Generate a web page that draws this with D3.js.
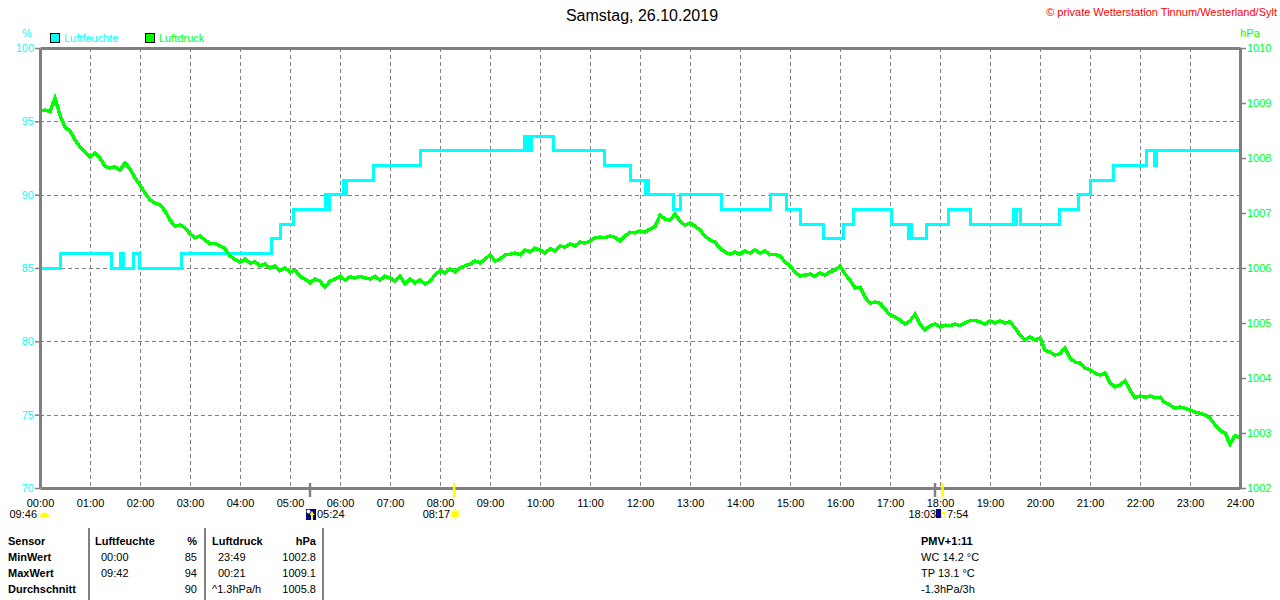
<!DOCTYPE html>
<html>
<head>
<meta charset="utf-8">
<script src="https://cdn.jsdelivr.net/npm/d3@7/dist/d3.min.js"></script>
<style>
  body { margin: 0; background: #ffffff; }
  svg { display: block; font-family: "Liberation Sans", Arial, sans-serif; }
</style>
</head>
<body>
<script>
// ---------------- DATA ----------------
const title = "Samstag, 26.10.2019";
const copyright = "© private Wetterstation Tinnum/Westerland/Sylt";
const seriesNames = ["Luftfeuchte", "Luftdruck"];
const humTicks = [70, 75, 80, 85, 90, 95, 100];
const pressTicks = [1002, 1003, 1004, 1005, 1006, 1007, 1008, 1009, 1010];
const hourTicks = d3.range(0, 25);

// Humidity (%) – step changes: minute of day -> new value
const humChangeMin = [0, 24, 86, 96, 100, 112, 119, 170, 278, 288, 304, 343, 345, 347, 364, 366, 368, 400, 457,
  581, 583, 586, 588, 590, 616, 677, 709, 726, 728, 730, 760, 768, 818, 876, 896, 912, 940, 964, 976,
  1022, 1042, 1044, 1046, 1064, 1090, 1116, 1168, 1170, 1172, 1176, 1223, 1246, 1261, 1288, 1328, 1337, 1340, 1440];
const humValue = [85, 86, 85, 86, 85, 86, 85, 86, 87, 88, 89, 90, 89, 90, 91, 90, 91, 92, 93,
  94, 93, 94, 93, 94, 93, 92, 91, 90, 91, 90, 89, 90, 89, 90, 89, 88, 87, 88, 89,
  88, 87, 88, 87, 88, 89, 88, 89, 88, 89, 88, 89, 90, 91, 92, 93, 92, 93, 93];

// Pressure (hPa) – one reading every 6 minutes, 00:00 .. 24:00 (one row per hour)
const pressStepMin = 6;
const pressure = [
  1008.85,1008.87,1008.84,1009.09,1008.78,1008.56,1008.49,1008.33,1008.20,1008.11,
  1008.02,1008.09,1008.00,1007.85,1007.82,1007.84,1007.78,1007.91,1007.80,1007.64,
  1007.51,1007.36,1007.24,1007.18,1007.15,1007.04,1006.87,1006.76,1006.78,1006.73,
  1006.62,1006.55,1006.58,1006.51,1006.44,1006.45,1006.40,1006.35,1006.22,1006.15,
  1006.11,1006.16,1006.09,1006.11,1006.04,1006.07,1006.00,1006.04,1005.95,1006.00,
  1005.93,1005.96,1005.85,1005.80,1005.73,1005.80,1005.76,1005.65,1005.76,1005.80,
  1005.85,1005.78,1005.84,1005.82,1005.85,1005.82,1005.80,1005.85,1005.78,1005.85,
  1005.82,1005.76,1005.85,1005.71,1005.80,1005.73,1005.78,1005.71,1005.76,1005.87,
  1005.95,1005.91,1005.98,1005.93,1006.00,1006.04,1006.07,1006.13,1006.09,1006.16,
  1006.24,1006.13,1006.16,1006.24,1006.25,1006.27,1006.24,1006.33,1006.29,1006.36,
  1006.33,1006.27,1006.35,1006.31,1006.40,1006.38,1006.44,1006.40,1006.47,1006.45,
  1006.49,1006.55,1006.56,1006.55,1006.58,1006.56,1006.49,1006.58,1006.65,1006.64,
  1006.67,1006.65,1006.71,1006.75,1006.96,1006.89,1006.87,1006.98,1006.85,1006.78,
  1006.82,1006.76,1006.69,1006.58,1006.51,1006.47,1006.36,1006.29,1006.25,1006.29,
  1006.25,1006.31,1006.27,1006.33,1006.27,1006.31,1006.24,1006.25,1006.22,1006.11,
  1006.04,1005.93,1005.85,1005.87,1005.89,1005.85,1005.91,1005.87,1005.93,1005.96,
  1006.04,1005.89,1005.78,1005.64,1005.65,1005.47,1005.36,1005.38,1005.36,1005.25,
  1005.15,1005.11,1005.05,1004.98,1005.04,1005.16,1004.98,1004.87,1004.95,1004.98,
  1004.93,1004.96,1004.95,1004.98,1004.95,1005.00,1005.04,1005.05,1005.02,1004.98,
  1005.04,1005.00,1005.04,1005.00,1005.02,1004.91,1004.78,1004.69,1004.75,1004.69,
  1004.73,1004.51,1004.47,1004.42,1004.44,1004.55,1004.36,1004.29,1004.27,1004.18,
  1004.15,1004.09,1004.05,1004.09,1003.91,1003.84,1003.87,1003.95,1003.78,1003.64,
  1003.67,1003.65,1003.67,1003.64,1003.65,1003.55,1003.51,1003.45,1003.47,1003.45,
  1003.42,1003.38,1003.36,1003.33,1003.27,1003.15,1003.05,1003.00,1002.80,1002.95,
  1002.91
];

// Astronomical markers
const grayMarkers = ["05:24", "17:54"];
const yellowMarkers = ["08:17", "18:03"];
const dayLength = "09:46";

// Summary table
const tableRowNames = ["Sensor", "MinWert", "MaxWert", "Durchschnitt"];
const humTimeCol = ["Luftfeuchte", "00:00", "09:42", ""];
const humValCol = ["%", "85", "94", "90"];
const pressTimeCol = ["Luftdruck", "23:49", "00:21", "^1.3hPa/h"];
const pressValCol = ["hPa", "1002.8", "1009.1", "1005.8"];
const extraCol = ["PMV+1:11", "WC 14.2 °C", "TP 13.1 °C", "-1.3hPa/3h"];

// ---------------- DRAW ----------------
const W = 1280, H = 600;
const pL = 40, pR = 1240, pT = 48, pB = 488;
const cyan = "#00ffff", green = "#00ff00", gray = "#808080";
const toMin = s => { const [h, m] = s.split(":").map(Number); return h * 60 + m; };

const svg = d3.select("body").append("svg").attr("width", W).attr("height", H);

const x = d3.scaleLinear().domain([0, 1440]).range([pL, pR]);
const yH = d3.scaleLinear().domain([70, 100]).range([pB, pT]);
const yP = d3.scaleLinear().domain([1002, 1010]).range([pB, pT]);

// Title & copyright
svg.append("text").attr("x", 642).attr("y", 21).attr("text-anchor", "middle")
  .attr("font-size", 16).attr("fill", "#000").text(title);
svg.append("text").attr("x", 1277).attr("y", 16).attr("text-anchor", "end")
  .attr("font-size", 11).attr("fill", "#ff0000").text(copyright);

// Units
svg.append("text").attr("x", 27).attr("y", 37).attr("text-anchor", "middle")
  .attr("font-size", 11).attr("fill", cyan).text("%");
svg.append("text").attr("x", 1250).attr("y", 37).attr("text-anchor", "middle")
  .attr("font-size", 11).attr("fill", green).text("hPa");

// Legend
const legend = [{ name: seriesNames[0], color: cyan, x: 50 }, { name: seriesNames[1], color: green, x: 145 }];
legend.forEach(l => {
  svg.append("rect").attr("x", l.x + 0.5).attr("y", 33.5).attr("width", 9).attr("height", 9)
    .attr("fill", l.color).attr("stroke", "#000").attr("stroke-width", 1);
  svg.append("text").attr("x", l.x + 14).attr("y", 42).attr("font-size", 11).attr("fill", l.color).text(l.name);
});

// Grid
const grid = svg.append("g").attr("stroke", gray).attr("stroke-width", 1).attr("stroke-dasharray", "4,3")
  .attr("shape-rendering", "crispEdges");
grid.selectAll("line.h").data(humTicks.filter(d => d > 70 && d < 100)).enter().append("line")
  .attr("x1", pL).attr("x2", pR).attr("y1", d => Math.round(yH(d)) + 0.5).attr("y2", d => Math.round(yH(d)) + 0.5);
grid.selectAll("line.v").data(hourTicks.filter(h => h > 0 && h < 24)).enter().append("line")
  .attr("y1", pT).attr("y2", pB).attr("x1", d => x(d * 60) + 0.5).attr("x2", d => x(d * 60) + 0.5);

// Humidity step line
const humData = humChangeMin.map((m, i) => ({ m, v: humValue[i] }));
svg.append("path").datum(humData)
  .attr("fill", "none").attr("stroke", cyan).attr("stroke-width", 3).attr("shape-rendering", "crispEdges")
  .attr("d", d3.line().x(d => x(d.m)).y(d => yH(d.v)).curve(d3.curveStepAfter));

// Pressure line
const pressData = pressure.map((v, i) => ({ m: i * pressStepMin, v }));
svg.append("path").datum(pressData)
  .attr("fill", "none").attr("stroke", green).attr("stroke-width", 3.5).attr("shape-rendering", "crispEdges")
  .attr("d", d3.line().x(d => x(d.m)).y(d => yP(d.v)));

// Axes
function styleAxis(g, color) {
  g.select(".domain").attr("stroke", gray).attr("stroke-width", 3);
  g.selectAll(".tick line").attr("stroke", gray).attr("stroke-width", 1.5);
  g.selectAll(".tick text").attr("fill", color).attr("font-size", 11)
    .attr("font-family", "'Liberation Sans', Arial, sans-serif");
}
svg.append("g").attr("transform", `translate(${pL},0)`)
  .call(d3.axisLeft(yH).tickValues(humTicks).tickSize(5).tickSizeOuter(0).tickPadding(1))
  .call(g => styleAxis(g, cyan));
svg.append("g").attr("transform", `translate(${pR},0)`)
  .call(d3.axisRight(yP).tickValues(pressTicks).tickSize(6).tickSizeOuter(0).tickPadding(1).tickFormat(d3.format("d")))
  .call(g => styleAxis(g, green));
svg.append("g").attr("transform", `translate(0,${pB})`)
  .call(d3.axisBottom(x).tickValues(hourTicks.map(h => h * 60)).tickSize(0).tickPadding(11)
    .tickFormat(d => String(d / 60).padStart(2, "0") + ":00"))
  .call(g => styleAxis(g, "#000"));
svg.append("g").attr("transform", `translate(0,${pT})`)
  .call(d3.axisTop(x).tickValues([]).tickSizeOuter(0))
  .call(g => styleAxis(g, "#000"));

// Astro markers
grayMarkers.forEach(t => {
  svg.append("line").attr("x1", x(toMin(t))).attr("x2", x(toMin(t))).attr("y1", 483).attr("y2", 497)
    .attr("stroke", gray).attr("stroke-width", 2.5);
});
yellowMarkers.forEach(t => {
  svg.append("line").attr("x1", x(toMin(t))).attr("x2", x(toMin(t))).attr("y1", 483).attr("y2", 497)
    .attr("stroke", "#ffff00").attr("stroke-width", 2.5);
});
function txt(xp, yp, s, anchor, bold) {
  const t = svg.append("text").attr("x", xp).attr("y", yp).attr("font-size", 11).attr("fill", "#000")
    .attr("text-anchor", anchor || "start").text(s);
  if (bold) t.attr("font-weight", "bold");
  return t;
}
// day length + half sun
txt(37, 518, dayLength, "end");
svg.append("path").attr("d", d3.arc()({ innerRadius: 0, outerRadius: 4.5, startAngle: -Math.PI / 2, endAngle: Math.PI / 2 }))
  .attr("transform", "translate(44.5,517)").attr("fill", "#ffff00");
// sunrise icon (05:24)
const srx = x(toMin(grayMarkers[0]));
svg.append("rect").attr("x", srx - 4).attr("y", 509).attr("width", 10).attr("height", 11).attr("fill", "#000080");
svg.append("circle").attr("cx", srx - 1.5).attr("cy", 511.5).attr("r", 2).attr("fill", "#ffffff");
svg.append("path").attr("d", `M${srx + 2},511 L${srx + 4.5},515 L${srx + 3},515 L${srx + 3},520 L${srx + 1},520 L${srx + 1},515 L${srx - 0.5},515 Z`).attr("fill", "#ffff00");
txt(srx + 7, 518, grayMarkers[0], "start");
// sun icon (08:17)
const sux = x(toMin(yellowMarkers[0]));
const sun = svg.append("g").attr("transform", `translate(${sux + 1},514)`);
sun.append("circle").attr("r", 3.5).attr("fill", "#ffff00");
d3.range(8).forEach(i => {
  const a = i * Math.PI / 4;
  sun.append("line").attr("x1", Math.cos(a) * 4).attr("y1", Math.sin(a) * 4)
    .attr("x2", Math.cos(a) * 6).attr("y2", Math.sin(a) * 6).attr("stroke", "#ffff00").attr("stroke-width", 1);
});
txt(sux - 4, 518, yellowMarkers[0], "end");
// sunset icon (18:03 / 17:54)
const ssx = x(toMin(grayMarkers[1]));
svg.append("rect").attr("x", ssx + 1).attr("y", 509).attr("width", 5).attr("height", 9).attr("fill", "#000080");
svg.append("rect").attr("x", ssx + 6.5).attr("y", 512.5).attr("width", 3.5).attr("height", 5).attr("fill", "none")
  .attr("stroke", "#ffff00").attr("stroke-width", 1);
txt(ssx + 1, 518, yellowMarkers[1], "end");
txt(ssx + 12, 518, grayMarkers[1].slice(1), "start");

// Summary table
const rowY = [545, 561, 577, 593];
[89, 205, 323].forEach(xp => {
  svg.append("line").attr("x1", xp).attr("x2", xp).attr("y1", 528).attr("y2", 600)
    .attr("stroke", gray).attr("stroke-width", 2);
});
tableRowNames.forEach((s, i) => txt(8, rowY[i], s, "start", true));
humTimeCol.forEach((s, i) => txt(i === 0 ? 95 : 101, rowY[i], s, "start", i === 0));
humValCol.forEach((s, i) => txt(197, rowY[i], s, "end", i === 0));
pressTimeCol.forEach((s, i) => txt(i === 0 || i === 3 ? 212 : 218, rowY[i], s, "start", i === 0));
pressValCol.forEach((s, i) => txt(316, rowY[i], s, "end", i === 0));
extraCol.forEach((s, i) => txt(921, rowY[i], s, "start", i === 0));
</script>
</body>
</html>
